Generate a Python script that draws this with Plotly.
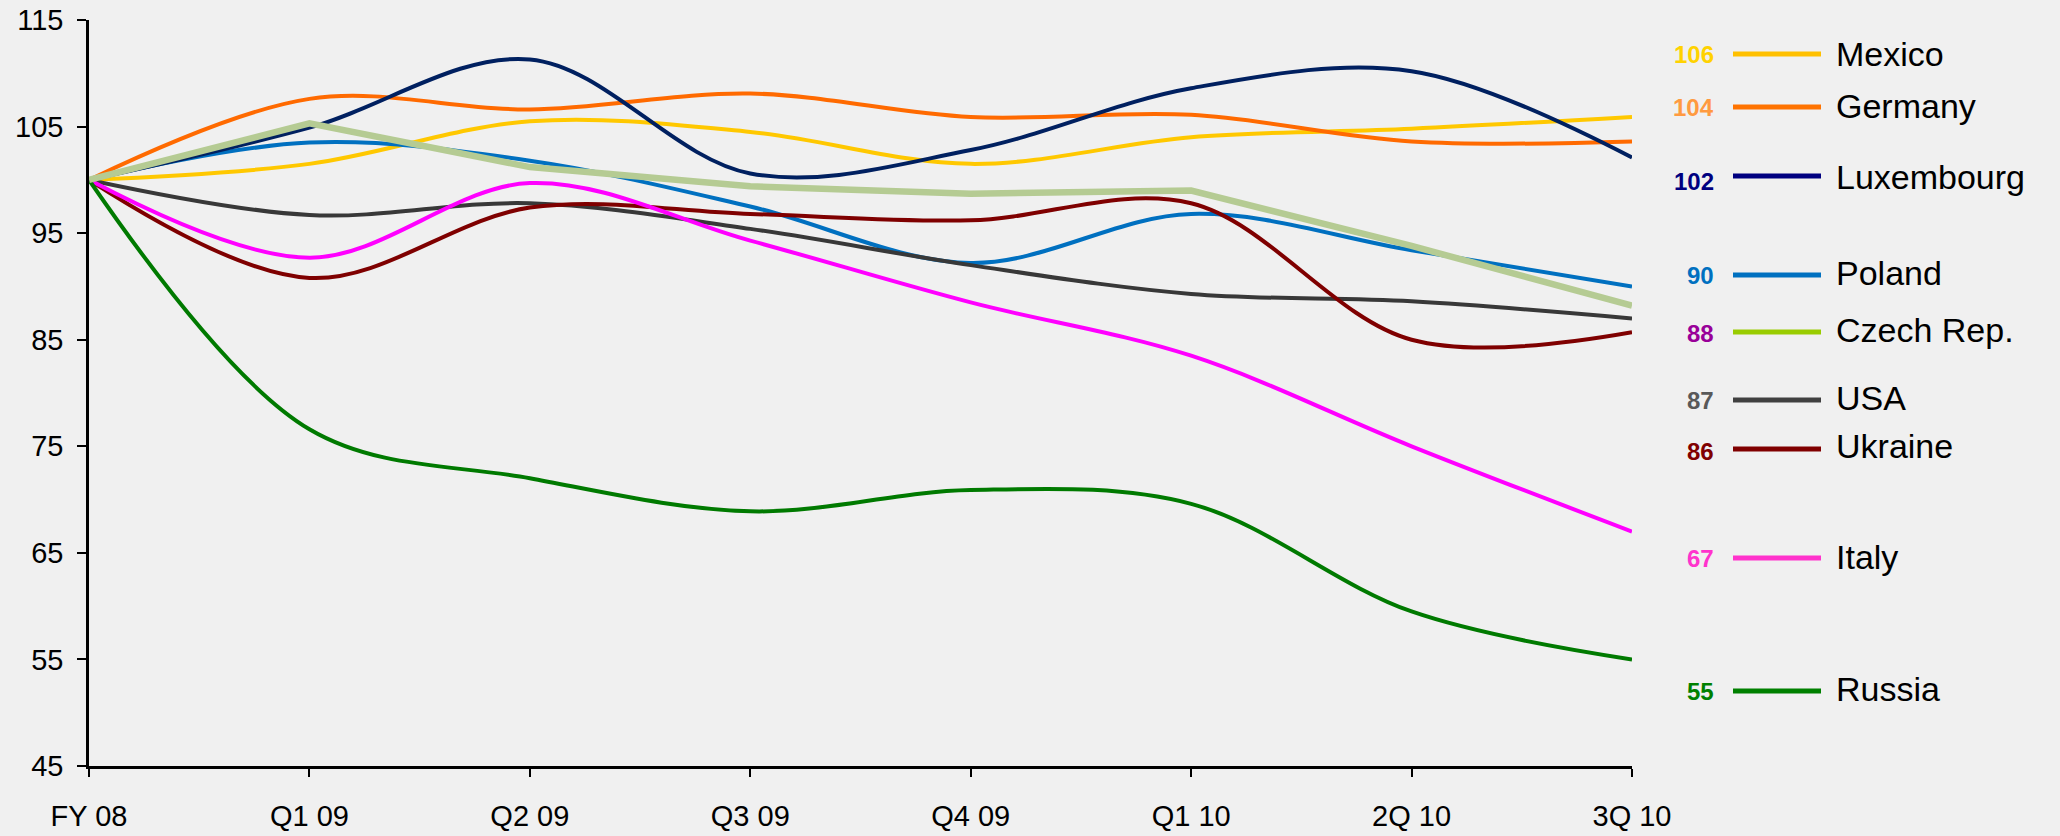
import plotly.graph_objects as go

# ---- data ----
periods = ["FY 08", "Q1 09", "Q2 09", "Q3 09", "Q4 09", "Q1 10", "2Q 10", "3Q 10"]
mexico     = [100, 101.5, 105.5, 104.5, 101.5, 104.0, 104.8, 105.9]
germany    = [100, 107.6, 106.6, 108.1, 105.9, 106.1, 103.6, 103.6]
luxembourg = [100, 104.9, 111.3, 100.6, 102.8, 108.6, 110.2, 102.1]
poland     = [100, 103.5, 101.8, 97.5, 92.2, 96.8, 93.4, 90.0]
czech      = [100, 105.3, 101.2, 99.4, 98.7, 99.0, 93.8, 88.2]
usa        = [100, 96.7, 97.8, 95.4, 92.0, 89.3, 88.6, 87.0]
ukraine    = [100, 90.8, 97.4, 96.8, 96.2, 97.8, 85.0, 85.7]
italy      = [100, 92.7, 99.7, 94.3, 88.5, 83.5, 75.0, 67.0]
russia     = [100, 76.6, 72.0, 68.9, 70.9, 69.6, 59.5, 55.0]

legend_names  = ["Mexico", "Germany", "Luxembourg", "Poland", "Czech Rep.", "USA", "Ukraine", "Italy", "Russia"]
legend_values = ["106", "104", "102", "90", "88", "87", "86", "67", "55"]
y_ticks = [45, 55, 65, 75, 85, 95, 105, 115]

# ---- styles ----
FONT = "Liberation Sans, Arial, sans-serif"
BG = "#f0f0f0"

series = [
    (mexico, "#FFC800", 4, "spline"),
    (germany, "#FF6A00", 4, "spline"),
    (poland, "#0070C0", 4, "spline"),
    (usa, "#383838", 4, "spline"),
    (ukraine, "#7F0000", 4, "spline"),
    (italy, "#FF00FF", 4, "spline"),
    (russia, "#007A00", 4, "spline"),
    (luxembourg, "#002060", 4, "spline"),
    (czech, "#B5CB93", 6.5, "linear"),
]

x = list(range(len(periods)))
fig = go.Figure()
for vals, col, w, shape in series:
    fig.add_trace(go.Scatter(x=x, y=vals, mode="lines",
                             line=dict(color=col, width=w, shape=shape, smoothing=1.0),
                             showlegend=False, hoverinfo="skip"))

# ---- custom legend (pixel layout converted to paper coords) ----
L, R, T, B = 89, 1632, 20, 766
def px(xp):
    return (xp - L) / (R - L)
def py(yp):
    return (B - yp) / (B - T)

legend_rows = [
    # line y, value y, name y, value color, line color
    (54, 54, 54, "#FFD200", "#FFC000"),
    (107, 108, 106, "#FF9A40", "#FF7300"),
    (176, 181, 177, "#000080", "#000080"),
    (275, 275, 273, "#0070C0", "#0070C0"),
    (332, 334, 330, "#990099", "#99CC00"),
    (400, 400, 398, "#595959", "#404040"),
    (449, 452, 446, "#800000", "#800000"),
    (558, 558, 557, "#FF33CC", "#FF33CC"),
    (691, 691, 689, "#008000", "#008000"),
]

shapes = []
annotations = []
for i, (ly, vy, ny, vcol, lcol) in enumerate(legend_rows):
    shapes.append(dict(type="line", xref="paper", yref="paper",
                       x0=px(1733), x1=px(1821), y0=py(ly), y1=py(ly),
                       line=dict(color=lcol, width=5)))
    annotations.append(dict(xref="paper", yref="paper", x=px(1716), y=py(vy),
                            text=f"<b>{legend_values[i]}</b>", showarrow=False,
                            xanchor="right", yanchor="middle",
                            font=dict(family=FONT, size=24, color=vcol)))
    annotations.append(dict(xref="paper", yref="paper", x=px(1834), y=py(ny),
                            text=legend_names[i], showarrow=False,
                            xanchor="left", yanchor="middle",
                            font=dict(family=FONT, size=34, color="#000000")))

fig.update_layout(
    width=2060, height=836,
    paper_bgcolor=BG, plot_bgcolor=BG,
    margin=dict(l=L, r=2060 - R, t=T, b=836 - B, autoexpand=False),
    font=dict(family=FONT, color="#000000"),
    shapes=shapes, annotations=annotations,
    xaxis=dict(range=[0, len(periods) - 1], tickmode="array", tickvals=x, ticktext=periods,
               showgrid=False, zeroline=False, showline=True, linecolor="#000000", linewidth=2.5,
               ticks="outside", ticklen=8, tickwidth=1.5, tickcolor="#000000",
               tickfont=dict(size=29), ticklabelstandoff=14, automargin=False, fixedrange=True),
    yaxis=dict(range=[45, 115], tickmode="array", tickvals=y_ticks,
               showgrid=False, zeroline=False, showline=True, linecolor="#000000", linewidth=2.5,
               ticks="outside", ticklen=9, tickwidth=1.5, tickcolor="#000000",
               tickfont=dict(size=29), ticklabelstandoff=8, automargin=False, fixedrange=True),
)

fig.write_html("out.html", config={"displayModeBar": False},
               post_script="document.body.style.margin='0';document.body.style.overflow='hidden';")
